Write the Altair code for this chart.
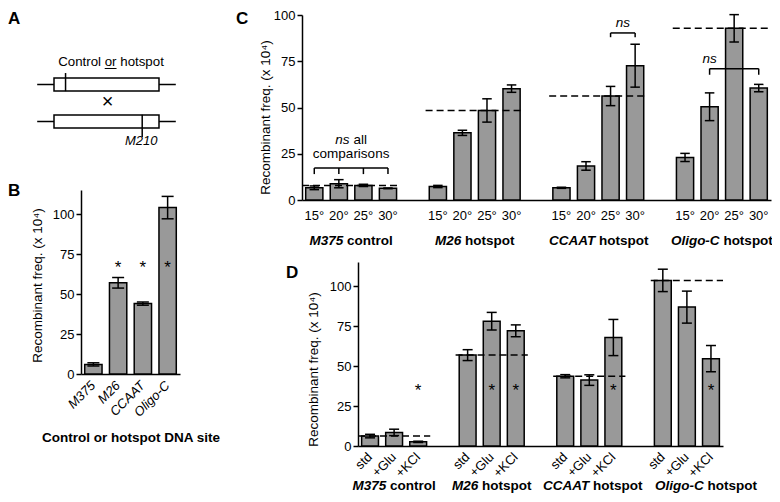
import altair as alt
import pandas as pd

FONT = "Liberation Sans"
W, H = 764, 486
GRAY = "#999999"
YTITLE = "Recombinant freq. (x 10⁴)"

# ---------------- data ----------------
sites = ["M375", "M26", "CCAAT", "Oligo-C"]
site_kind = ["control", "hotspot", "hotspot", "hotspot"]

# panel B
b_mean = [6.0, 57.0, 44.0, 104.0]
b_err = [1.0, 3.3, 1.0, 7.0]
b_star = ["", "*", "*", "*"]
b_star_level = 69

# panel C
temps = ["15°", "20°", "25°", "30°"]
c_m375 = [6.6, 8.8, 7.9, 6.3]
c_m375_err = [1.0, 2.2, 0.6, 0.2]
c_m26 = [7.3, 36.3, 48.4, 60.2]
c_m26_err = [0.6, 1.4, 6.3, 2.0]
c_ccaat = [6.6, 18.4, 56.2, 72.6]
c_ccaat_err = [0.3, 2.3, 5.2, 11.6]
c_oligo = [23.0, 50.4, 92.8, 60.5]
c_oligo_err = [2.2, 7.5, 7.4, 2.0]
c_ref_temp = "25°"
ns_group = ["M375", "CCAAT", "Oligo-C"]
ns_from = ["15°", "25°", "20°"]
ns_to = ["30°", "30°", "30°"]
ns_top = [17.3, 90.3, 71.0]
ns_drop = [3.3, 2.3, 3.3]
ns_ticks = [["15°", "20°", "25°", "30°"], ["25°", "30°"], ["20°", "30°"]]
ns_text_level = [32.5, 95.8, 76.0]
comparisons_level = 25.0

# panel D
conds = ["std", "+Glu", "+KCl"]
d_m375 = [6.2, 8.5, 2.6]
d_m375_err = [1.1, 2.0, 0.4]
d_m26 = [56.8, 78.0, 72.0]
d_m26_err = [3.4, 5.5, 3.7]
d_ccaat = [43.6, 41.2, 67.8]
d_ccaat_err = [1.0, 3.3, 11.3]
d_oligo = [103.5, 86.8, 54.6]
d_oligo_err = [7.0, 10.0, 8.2]
d_star_m375 = ["", "", "*"]
d_star_m26 = ["", "*", "*"]
d_star_ccaat = ["", "", "*"]
d_star_oligo = ["", "", "*"]
d_star_level = 37

# panel A schematic (positions along the gene, 0-100)
chrom_rows = [0, 1]
gene_span = [0, 100]
flank_span = [-16, 116]
site_pos = [11, 84]
site_top = [-0.31, -0.18]
site_bottom = [0.18, 0.42]

# ---------------- helpers ----------------
AR = {" ": 278, "a": 556, "b": 556, "c": 500, "d": 556, "e": 556, "f": 278, "g": 556, "h": 556,
      "i": 222, "l": 222, "m": 833, "n": 556, "o": 556, "p": 556, "r": 333, "s": 500, "t": 278,
      "C": 722, "-": 333}
AB = {" ": 278, "a": 556, "c": 556, "g": 611, "h": 611, "i": 278, "l": 278, "n": 611, "o": 611,
      "p": 611, "r": 389, "s": 556, "t": 333, "A": 722, "C": 722, "M": 833, "O": 778, "T": 611,
      "-": 333}


def tw(s, size, table):
    return sum(table.get(ch, 556) for ch in s) * size / 1000.0


def xg(**kw):
    return alt.X("group:N", sort=sites, **kw)


def two_part(g, rest, y_px, size, shift=0.0):
    """Group label: bold-italic site name followed by bold upright word."""
    w1, ws, w2 = tw(g, size, AB), tw(" ", size, AB), tw(rest, size, AB)
    total = w1 + ws + w2
    dx1 = -total / 2 + w1 + shift
    dx2 = dx1 + ws
    df = pd.DataFrame({"group": [g], "a": [g], "b": [rest]})
    base = alt.Chart(df).encode(x=xg(), y=y_px)
    l1 = base.mark_text(align="right", baseline="middle", dx=dx1, font=FONT, fontSize=size,
                        fontStyle="italic", fontWeight="bold", color="black").encode(text="a:N")
    l2 = base.mark_text(align="left", baseline="middle", dx=dx2, font=FONT, fontSize=size,
                        fontWeight="bold", color="black").encode(text="b:N")
    return [l1, l2]


def grouped_panel(df, offset_field, offset_domain, x_range, pad_inner, y_domain, y_range,
                  y_axis_x, title_x, title_y, cap, ref_key):
    xs = alt.Scale(domain=sites, range=x_range, paddingInner=pad_inner, paddingOuter=0)
    xos = alt.Scale(domain=offset_domain, paddingInner=0.3, paddingOuter=0.15)
    ys = alt.Scale(domain=y_domain, range=y_range, nice=False)
    xo = alt.XOffset(f"{offset_field}:N", sort=offset_domain, scale=xos)
    xo2 = alt.XOffset(f"{offset_field}:N", sort=offset_domain)
    X = xg(scale=xs, axis=alt.Axis(orient="bottom", offset=y_range[0] - H, ticks=False,
                                   labels=False, title=None))
    Y = alt.Y("mean:Q", scale=ys,
              axis=alt.Axis(orient="left", offset=-y_axis_x, values=[0, 25, 50, 75, 100],
                            title=YTITLE, titleX=title_x, titleY=title_y,
                            titleBaseline="middle"))
    base = alt.Chart(df)
    bars = base.mark_bar(fill=GRAY, stroke="black", strokeWidth=1.5).encode(x=X, xOffset=xo, y=Y)
    err = base.mark_rule(color="black", strokeWidth=1.5).encode(
        x=xg(), xOffset=xo2, y=alt.Y("lo:Q"), y2="hi:Q")
    cap_lo = base.mark_tick(color="black", size=cap, thickness=1.5, opacity=1).encode(
        x=xg(), xOffset=xo2, y=alt.Y("lo:Q"))
    cap_hi = base.mark_tick(color="black", size=cap, thickness=1.5, opacity=1).encode(
        x=xg(), xOffset=xo2, y=alt.Y("hi:Q"))
    ref = base.transform_filter(alt.datum[offset_field] == ref_key).mark_rule(
        color="black", strokeWidth=1.5, strokeDash=[7, 4]).encode(
        x=xg(bandPosition=0), x2=alt.X2("group", bandPosition=1),
        y=alt.Y("mean:Q"))
    return [bars, err, cap_lo, cap_hi, ref], xo2


# ---------------- panel A ----------------
ax = alt.Scale(domain=[flank_span[0], flank_span[1]], range=[25, 172])
ay = alt.Scale(domain=[0, 1], range=[76.5, 113.5])
a_rows = pd.DataFrame({"row": chrom_rows, "f0": [flank_span[0]] * 2, "f1": [flank_span[1]] * 2,
                       "g0": [gene_span[0]] * 2, "g1": [gene_span[1]] * 2,
                       "top": [r - 0.176 for r in chrom_rows], "bot": [r + 0.176 for r in chrom_rows]})
a_sites = pd.DataFrame({"pos": site_pos, "top": [r + t for r, t in zip(chrom_rows, site_top)],
                        "bot": [r + b for r, b in zip(chrom_rows, site_bottom)]})
a_flank = alt.Chart(a_rows).mark_rule(color="black", strokeWidth=1.5).encode(
    x=alt.X("f0:Q", scale=ax, axis=None), x2="f1:Q", y=alt.Y("row:Q", scale=ay, axis=None))
a_gene = alt.Chart(a_rows).mark_rect(fill="white", stroke="black", strokeWidth=1.5).encode(
    x=alt.X("g0:Q", axis=None), x2="g1:Q", y=alt.Y("top:Q", axis=None), y2="bot:Q")
a_mark = alt.Chart(a_sites).mark_rule(color="black", strokeWidth=1.5).encode(
    x=alt.X("pos:Q", axis=None), y=alt.Y("top:Q", axis=None), y2="bot:Q")

ctl_text = "Control or hotspot"
ctl_size = 13.3
ctl_cx = 103
ctl_left = ctl_cx - tw(ctl_text, ctl_size, AR) / 2
or_x0 = ctl_left + tw("Control ", ctl_size, AR)
or_x1 = or_x0 + tw("or", ctl_size, AR)
a_txt = alt.Chart(pd.DataFrame({"t": [ctl_text]})).mark_text(
    font=FONT, fontSize=ctl_size, align="center", baseline="alphabetic", color="black").encode(
    text="t:N", x=alt.value(ctl_cx), y=alt.value(58))
a_ul = alt.Chart(pd.DataFrame({"t": ["or"]})).mark_rule(color="black", strokeWidth=1).encode(
    x=alt.value(or_x0), x2=alt.value(or_x1), y=alt.value(60.5))
a_x = alt.Chart(pd.DataFrame({"t": ["×"]})).mark_text(
    font=FONT, fontSize=20, align="center", baseline="middle", color="black").encode(
    text="t:N", x=alt.value(99.5), y=alt.value(94))
a_m210 = alt.Chart(pd.DataFrame({"t": ["M210"]})).mark_text(
    font=FONT, fontSize=13, fontStyle="italic", align="left", baseline="alphabetic",
    color="black").encode(text="t:N", x=alt.value(117), y=alt.value(136.5))
panelA = alt.layer(a_flank, a_gene, a_mark, a_txt, a_ul, a_x, a_m210)

# ---------------- panel B ----------------
b_df = pd.DataFrame({"site": sites, "mean": b_mean,
                     "lo": [m - e for m, e in zip(b_mean, b_err)],
                     "hi": [m + e for m, e in zip(b_mean, b_err)],
                     "star": b_star, "sy": [b_star_level] * 4})
bX = alt.X("site:N", sort=sites,
           scale=alt.Scale(domain=sites, range=[73, 172], paddingInner=0.3, paddingOuter=0.15),
           axis=alt.Axis(orient="bottom", offset=366 - H, ticks=False, labelAngle=-45,
                         labelAlign="right", labelBaseline="middle", labelPadding=9,
                         labelFontStyle="italic", labelOverlap=False, labelFlush=False,
                         title="Control or hotspot DNA site", titleFontWeight="bold",
                         titleY=63, titleBaseline="middle"))
bY = alt.Y("mean:Q", scale=alt.Scale(domain=[0, 115], range=[366, 182], nice=False),
           axis=alt.Axis(orient="left", offset=-73, values=[0, 25, 50, 75, 100], title=YTITLE,
                         titleX=-44, titleY=277, titleBaseline="middle"))
bx2 = alt.X("site:N", sort=sites)
bb = alt.Chart(b_df)
panelB = alt.layer(
    bb.mark_bar(fill=GRAY, stroke="black", strokeWidth=1.5).encode(x=bX, y=bY),
    bb.mark_rule(color="black", strokeWidth=1.5).encode(x=bx2, y=alt.Y("lo:Q"), y2="hi:Q"),
    bb.mark_tick(color="black", size=12, thickness=1.5, opacity=1).encode(x=bx2, y=alt.Y("lo:Q")),
    bb.mark_tick(color="black", size=12, thickness=1.5, opacity=1).encode(x=bx2, y=alt.Y("hi:Q")),
    bb.mark_text(font=FONT, fontSize=17, baseline="middle", dy=4, color="black").encode(
        x=bx2, y=alt.Y("sy:Q"), text="star:N"),
)

# ---------------- panel C ----------------
c_rows = []
for g, ms, es in zip(sites, [c_m375, c_m26, c_ccaat, c_oligo],
                     [c_m375_err, c_m26_err, c_ccaat_err, c_oligo_err]):
    for t, m, e in zip(temps, ms, es):
        c_rows.append({"group": g, "temp": t, "mean": m, "lo": m - e, "hi": m + e})
c_df = pd.DataFrame(c_rows)
c_layers, cxo = grouped_panel(c_df, "temp", temps, [294, 763], 0.205, [0, 100], [192, 7],
                              294, -37, 109, 9.5, c_ref_temp)
c_layers.append(alt.Chart(c_df).mark_text(font=FONT, fontSize=13, baseline="middle",
                                          color="black").encode(
    x=xg(), xOffset=cxo, y=alt.value(208), text="temp:N"))
for g, kind in zip(sites, site_kind):
    c_layers += two_part(g, kind, alt.value(233), 13.5)
# ns brackets
for i, g in enumerate(ns_group):
    b0 = (temps.index(ns_from[i]) + 0.5) / len(temps)
    b1 = (temps.index(ns_to[i]) + 0.5) / len(temps)
    hdf = pd.DataFrame({"group": [g], "top": [ns_top[i]]})
    c_layers.append(alt.Chart(hdf).mark_rule(color="black", strokeWidth=1.5).encode(
        x=xg(bandPosition=b0), x2=alt.X2("group", bandPosition=b1),
        y=alt.Y("top:Q")))
    vdf = pd.DataFrame({"group": [g] * len(ns_ticks[i]), "temp": ns_ticks[i],
                        "top": [ns_top[i]] * len(ns_ticks[i]),
                        "bot": [ns_top[i] - ns_drop[i]] * len(ns_ticks[i])})
    c_layers.append(alt.Chart(vdf).mark_rule(color="black", strokeWidth=1.5).encode(
        x=xg(), xOffset=cxo, y=alt.Y("top:Q"), y2="bot:Q"))
# ns labels
w_ns, w_sp, w_all = tw("ns", 13.5, AR), tw(" ", 13.5, AR), tw("all", 13.5, AR)
dxa = -(w_ns + w_sp + w_all) / 2 + w_ns
lvl = pd.DataFrame({"group": ["M375"], "a": ["ns"], "b": ["all"], "c": ["comparisons"],
                    "y1": [ns_text_level[0]], "y2": [comparisons_level]})
c_layers.append(alt.Chart(lvl).mark_text(font=FONT, fontSize=13.5, fontStyle="italic", align="right",
                                         baseline="middle", dx=dxa, color="black").encode(
    x=xg(), y=alt.Y("y1:Q"), text="a:N"))
c_layers.append(alt.Chart(lvl).mark_text(font=FONT, fontSize=13.5, align="left",
                                         baseline="middle", dx=dxa + w_sp, color="black").encode(
    x=xg(), y=alt.Y("y1:Q"), text="b:N"))
c_layers.append(alt.Chart(lvl).mark_text(font=FONT, fontSize=13.5, baseline="middle",
                                         color="black").encode(
    x=xg(), y=alt.Y("y2:Q"), text="c:N"))
for i in [1, 2]:
    g = ns_group[i]
    if i == 1:
        bp = (temps.index(ns_from[i]) + 1.0) / len(temps)
    else:
        bp = (temps.index(ns_from[i]) + 0.5) / len(temps)
    tdf = pd.DataFrame({"group": [g], "a": ["ns"], "y": [ns_text_level[i]]})
    c_layers.append(alt.Chart(tdf).mark_text(font=FONT, fontSize=13.5, fontStyle="italic",
                                             baseline="middle", color="black").encode(
        x=xg(bandPosition=bp), y=alt.Y("y:Q"), text="a:N"))
panelC = alt.layer(*c_layers)

# ---------------- panel D ----------------
d_rows = []
for g, ms, es, st in zip(sites, [d_m375, d_m26, d_ccaat, d_oligo],
                         [d_m375_err, d_m26_err, d_ccaat_err, d_oligo_err],
                         [d_star_m375, d_star_m26, d_star_ccaat, d_star_oligo]):
    for c, m, e, s in zip(conds, ms, es, st):
        d_rows.append({"group": g, "cond": c, "mean": m, "lo": m - e, "hi": m + e,
                       "star": s, "sy": d_star_level})
d_df = pd.DataFrame(d_rows)
d_layers, dxo = grouped_panel(d_df, "cond", conds, [350, 715], 0.26, [0, 115], [438, 254],
                              350, -45, 361, 10, "std")
d_layers.append(alt.Chart(d_df).mark_text(font=FONT, fontSize=17, baseline="middle", dy=4,
                                          color="black").encode(
    x=xg(), xOffset=dxo, y=alt.Y("sy:Q"), text="star:N"))
d_layers.append(alt.Chart(d_df).mark_text(font=FONT, fontSize=13, angle=315, align="right",
                                          baseline="middle", color="black").encode(
    x=xg(), xOffset=dxo, y=alt.value(447), text="cond:N"))
d_label_shift = [0, 0, 3, 19]
for g, kind, sh in zip(sites, site_kind, d_label_shift):
    d_layers += two_part(g, kind, alt.value(478), 13.5, shift=sh)
panelD = alt.layer(*d_layers)

# ---------------- panel letters ----------------
letters = []
for letter, lx, ly in [("A", 0, 16), ("B", 0, 188), ("C", 228, 16), ("D", 278, 270)]:
    letters.append(alt.Chart(pd.DataFrame({"t": [letter]})).mark_text(
        font=FONT, fontSize=17, fontWeight="bold", align="left", baseline="alphabetic",
        color="black").encode(text="t:N", x=alt.value(lx), y=alt.value(ly)))

chart = alt.layer(panelA, panelB, panelC, panelD, *letters).resolve_scale(
    x="independent", y="independent", xOffset="independent").resolve_axis(
    x="independent", y="independent").properties(
    width=W, height=H, padding=0, autosize=alt.AutoSizeParams(type="none")
).configure_view(stroke=None).configure_axis(
    domainColor="black", domainWidth=1.5, tickColor="black", tickWidth=1.5, tickSize=5,
    labelFont=FONT, labelFontSize=13, labelColor="black", labelPadding=2,
    titleFont=FONT, titleFontSize=13.5, titleFontWeight="normal", titleColor="black", grid=False)

chart.save("out.html", embed_options={"renderer": "svg", "actions": False})
